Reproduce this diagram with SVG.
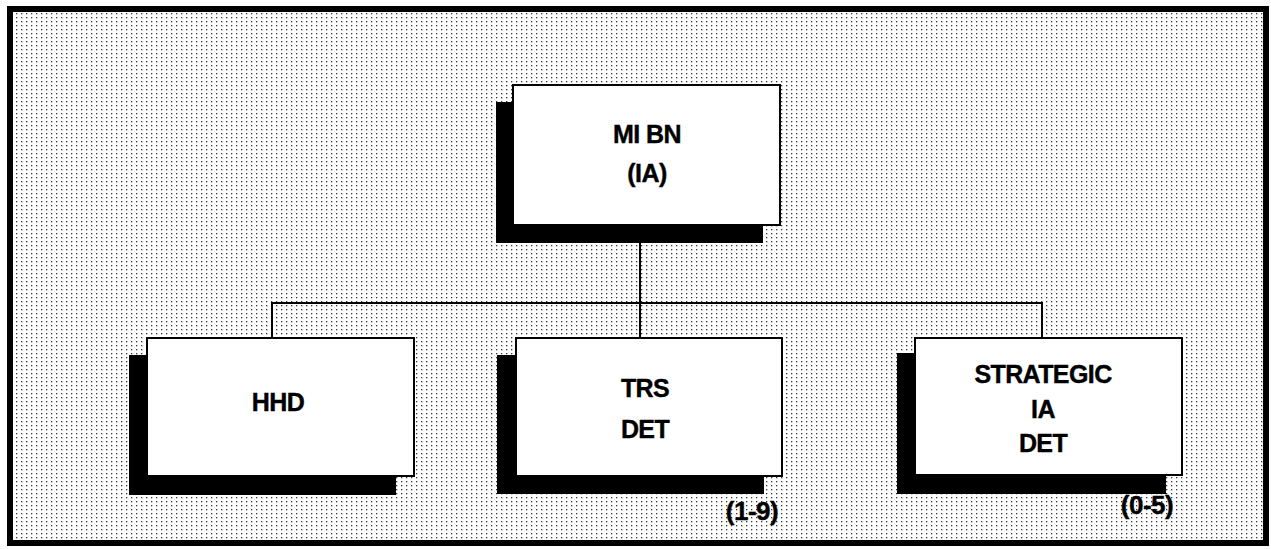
<svg xmlns="http://www.w3.org/2000/svg" width="1271" height="549" viewBox="0 0 1271 549">
<defs>
<pattern id="dots" x="0" y="0" width="5" height="4" patternUnits="userSpaceOnUse">
<rect x="1" y="1" width="1.3" height="1.3" fill="#333"/>
</pattern>
<style>
.shadow{fill:#000}
.box{fill:#fff;stroke:#000;stroke-width:2}
.lbl{font-family:"Liberation Sans",Arial,sans-serif;font-weight:bold;font-size:25px;fill:#000;text-anchor:middle;letter-spacing:-0.6px;stroke:#000;stroke-width:0.4px}
.note{font-family:"Liberation Sans",Arial,sans-serif;font-weight:bold;font-size:26px;fill:#000;text-anchor:middle;letter-spacing:-0.5px;stroke:#000;stroke-width:0.4px}
.conn{fill:none;stroke:#000;stroke-width:2}
</style>
</defs>
<rect x="0" y="0" width="1271" height="549" fill="#fff"/>
<rect x="10" y="9" width="1256" height="534" fill="url(#dots)" stroke="#000" stroke-width="6"/>
<g id="connectors">
<line class="conn" x1="640" y1="225" x2="640" y2="338"/>
<polyline class="conn" points="272,338 272,303 1042,303 1042,338"/>
</g>
<g id="node-mibn">
<rect class="shadow" x="496" y="102" width="267" height="141"/>
<rect class="box" x="513" y="85" width="267" height="140"/>
<text class="lbl" x="647" y="143">MI BN</text>
<text class="lbl" x="647" y="182">(IA)</text>
</g>
<g id="node-hhd">
<rect class="shadow" x="129" y="355" width="267" height="140"/>
<rect class="box" x="147" y="338" width="267" height="138"/>
<text class="lbl" x="278" y="411">HHD</text>
</g>
<g id="node-trs">
<rect class="shadow" x="497" y="355" width="267" height="139"/>
<rect class="box" x="516" y="338" width="266" height="138"/>
<text class="lbl" x="645" y="397">TRS</text>
<text class="lbl" x="645" y="438">DET</text>
<text class="note" x="752" y="520">(1-9)</text>
</g>
<g id="node-strategic">
<rect class="shadow" x="897" y="353" width="269" height="141"/>
<rect class="box" x="915" y="338" width="267" height="137"/>
<text class="lbl" x="1043" y="383">STRATEGIC</text>
<text class="lbl" x="1043" y="418">IA</text>
<text class="lbl" x="1043" y="452">DET</text>
<text class="note" x="1147" y="514">(0-5)</text>
</g>
</svg>
